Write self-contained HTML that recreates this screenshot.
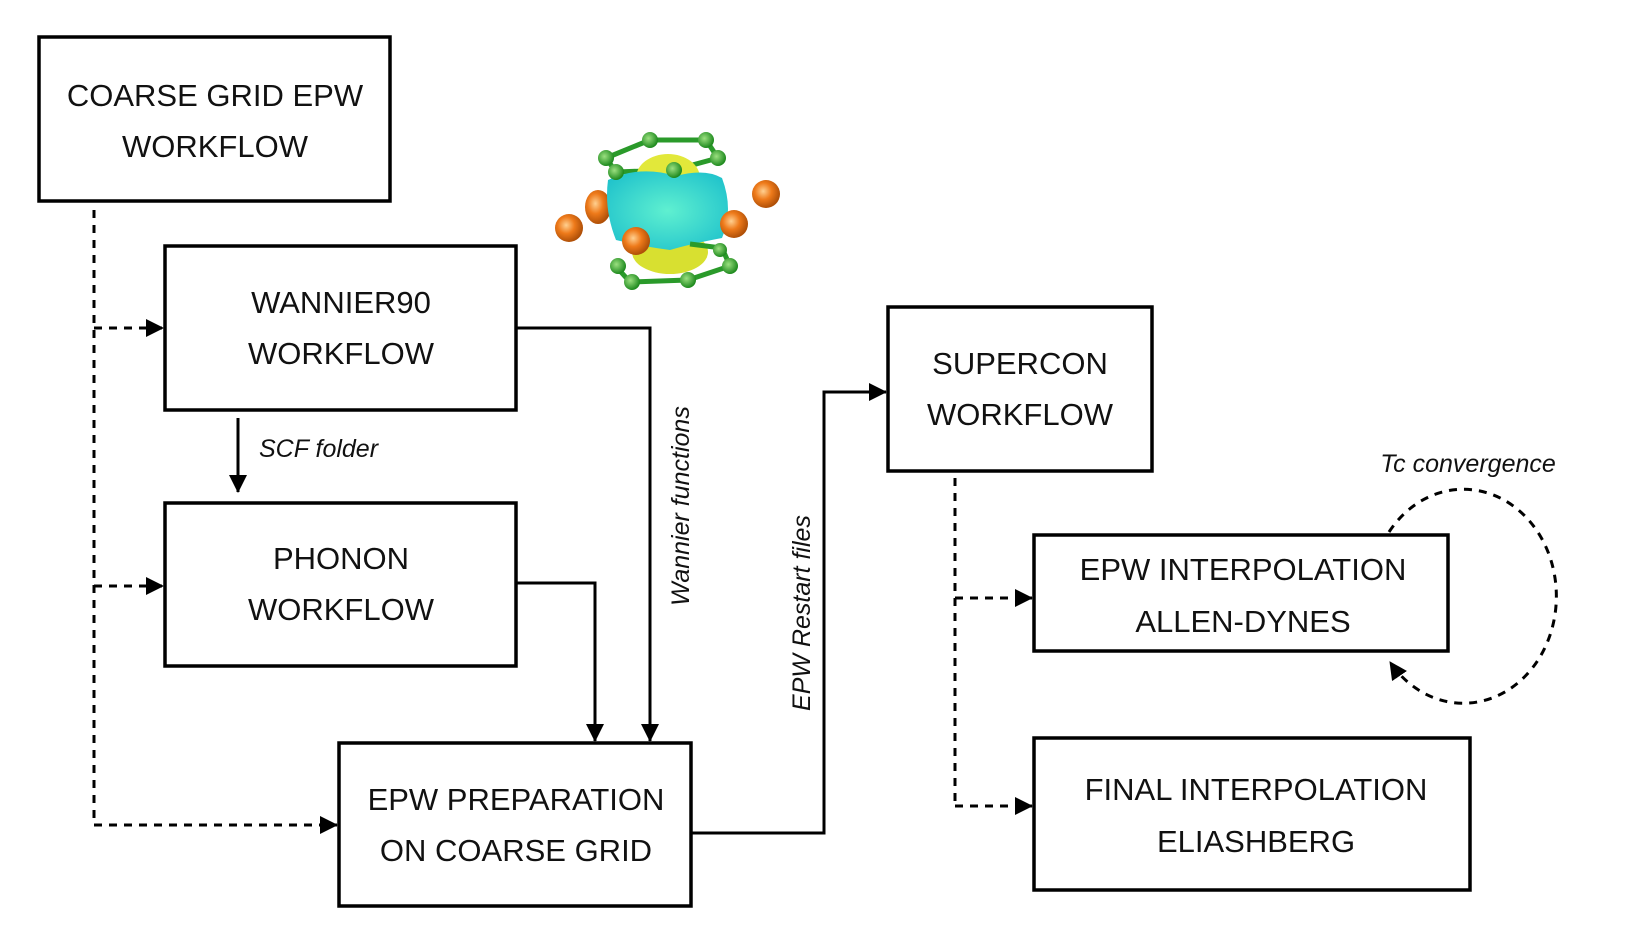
<!DOCTYPE html>
<html><head><meta charset="utf-8"><style>
html,body{margin:0;padding:0;background:#fff;}
svg{display:block;}
text{font-family:"Liberation Sans","DejaVu Sans",sans-serif;fill:#111;}
.b{fill:#fff;stroke:#000;stroke-width:3.5;}
.t{font-size:31px;text-anchor:middle;}
.i{font-size:25px;font-style:italic;}
.s{fill:none;stroke:#000;stroke-width:3;}
.d{fill:none;stroke:#000;stroke-width:3;stroke-dasharray:8,7;}
</style></head><body>
<svg width="1644" height="952" viewBox="0 0 1644 952" xmlns="http://www.w3.org/2000/svg">
<defs>
<marker id="A" markerWidth="18" markerHeight="18" refX="17" refY="9" orient="auto" markerUnits="userSpaceOnUse"><path d="M0,0 L18,9 L0,18 Z" fill="#000"/></marker>
<radialGradient id="og" cx="0.4" cy="0.4" r="0.6"><stop offset="0" stop-color="#ffd090"/><stop offset="0.5" stop-color="#ee7a1a"/><stop offset="1" stop-color="#b05008"/></radialGradient>
<radialGradient id="gg" cx="0.4" cy="0.4" r="0.6"><stop offset="0" stop-color="#9be080"/><stop offset="1" stop-color="#1e8a1e"/></radialGradient>
<radialGradient id="cy" cx="0.5" cy="0.5" r="0.6"><stop offset="0" stop-color="#5ff0d0"/><stop offset="1" stop-color="#22c4cc"/></radialGradient>
</defs>

<rect class="b" x="39" y="37" width="351" height="164"/>
<text class="t" x="215" y="106">COARSE GRID EPW</text>
<text class="t" x="215" y="157">WORKFLOW</text>

<rect class="b" x="165" y="246" width="351" height="164"/>
<text class="t" x="341" y="313">WANNIER90</text>
<text class="t" x="341" y="364">WORKFLOW</text>

<rect class="b" x="165" y="503" width="351" height="163"/>
<text class="t" x="341" y="569">PHONON</text>
<text class="t" x="341" y="620">WORKFLOW</text>

<rect class="b" x="339" y="743" width="352" height="163"/>
<text class="t" x="516" y="810">EPW PREPARATION</text>
<text class="t" x="516" y="861">ON COARSE GRID</text>

<rect class="b" x="888" y="307" width="264" height="164"/>
<text class="t" x="1020" y="374">SUPERCON</text>
<text class="t" x="1020" y="425">WORKFLOW</text>

<rect class="b" x="1034" y="535" width="414" height="116"/>
<text class="t" x="1243" y="580">EPW INTERPOLATION</text>
<text class="t" x="1243" y="632">ALLEN-DYNES</text>

<rect class="b" x="1034" y="738" width="436" height="152"/>
<text class="t" x="1256" y="800">FINAL INTERPOLATION</text>
<text class="t" x="1256" y="852">ELIASHBERG</text>

<path class="d" d="M94,210 V825"/>
<path class="d" d="M94,328 H163" marker-end="url(#A)"/>
<path class="d" d="M94,586 H163" marker-end="url(#A)"/>
<path class="d" d="M94,825 H337" marker-end="url(#A)"/>

<path class="d" d="M955,478 V806"/>
<path class="d" d="M955,598 H1032" marker-end="url(#A)"/>
<path class="d" d="M955,806 H1032" marker-end="url(#A)"/>

<path class="d" d="M1389,532 A93,107 0 1 1 1390,662" marker-end="url(#A)"/>
<text class="i" x="1468" y="472" text-anchor="middle">Tc convergence</text>

<path class="s" d="M516,328 H650 V741" marker-end="url(#A)"/>
<path class="s" d="M516,583 H595 V741" marker-end="url(#A)"/>
<path class="s" d="M238,418 V492" marker-end="url(#A)"/>
<text class="i" x="259" y="457">SCF folder</text>
<path class="s" d="M691,833 H824 V392 H886" marker-end="url(#A)"/>
<text class="i" transform="translate(689,506) rotate(-90)" text-anchor="middle">Wannier functions</text>
<text class="i" transform="translate(810,613) rotate(-90)" text-anchor="middle">EPW Restart files</text>

<g>
<path d="M606,158 L650,140 L706,140 L718,158 L674,170 L616,172 Z" fill="none" stroke="#2a9a2a" stroke-width="5"/>
<ellipse cx="668" cy="178" rx="32" ry="24" fill="#e2e83a"/>
<ellipse cx="670" cy="252" rx="38" ry="22" fill="#d8e030"/>
<ellipse cx="598" cy="207" rx="13" ry="17" fill="url(#og)"/>
<path d="M608,180 Q640,165 676,176 Q705,168 722,178 Q734,210 722,238 Q690,244 670,250 Q640,246 616,240 Q604,210 608,180 Z" fill="url(#cy)"/>
<path d="M612,262 L630,282 L688,280 L730,266 L722,248 L690,244" fill="none" stroke="#2a9a2a" stroke-width="5"/>
<circle cx="650" cy="140" r="8" fill="url(#gg)"/><circle cx="706" cy="140" r="8" fill="url(#gg)"/>
<circle cx="606" cy="158" r="8" fill="url(#gg)"/><circle cx="718" cy="158" r="8" fill="url(#gg)"/>
<circle cx="616" cy="172" r="8" fill="url(#gg)"/><circle cx="674" cy="170" r="8" fill="url(#gg)"/>
<circle cx="618" cy="266" r="8" fill="url(#gg)"/><circle cx="632" cy="282" r="8" fill="url(#gg)"/>
<circle cx="688" cy="280" r="8" fill="url(#gg)"/><circle cx="730" cy="266" r="8" fill="url(#gg)"/>
<circle cx="720" cy="250" r="7" fill="url(#gg)"/>
<circle cx="569" cy="228" r="14" fill="url(#og)"/>
<circle cx="766" cy="194" r="14" fill="url(#og)"/>
<circle cx="734" cy="224" r="14" fill="url(#og)"/>
<circle cx="636" cy="241" r="14" fill="url(#og)"/>
</g>
</svg>
</body></html>
